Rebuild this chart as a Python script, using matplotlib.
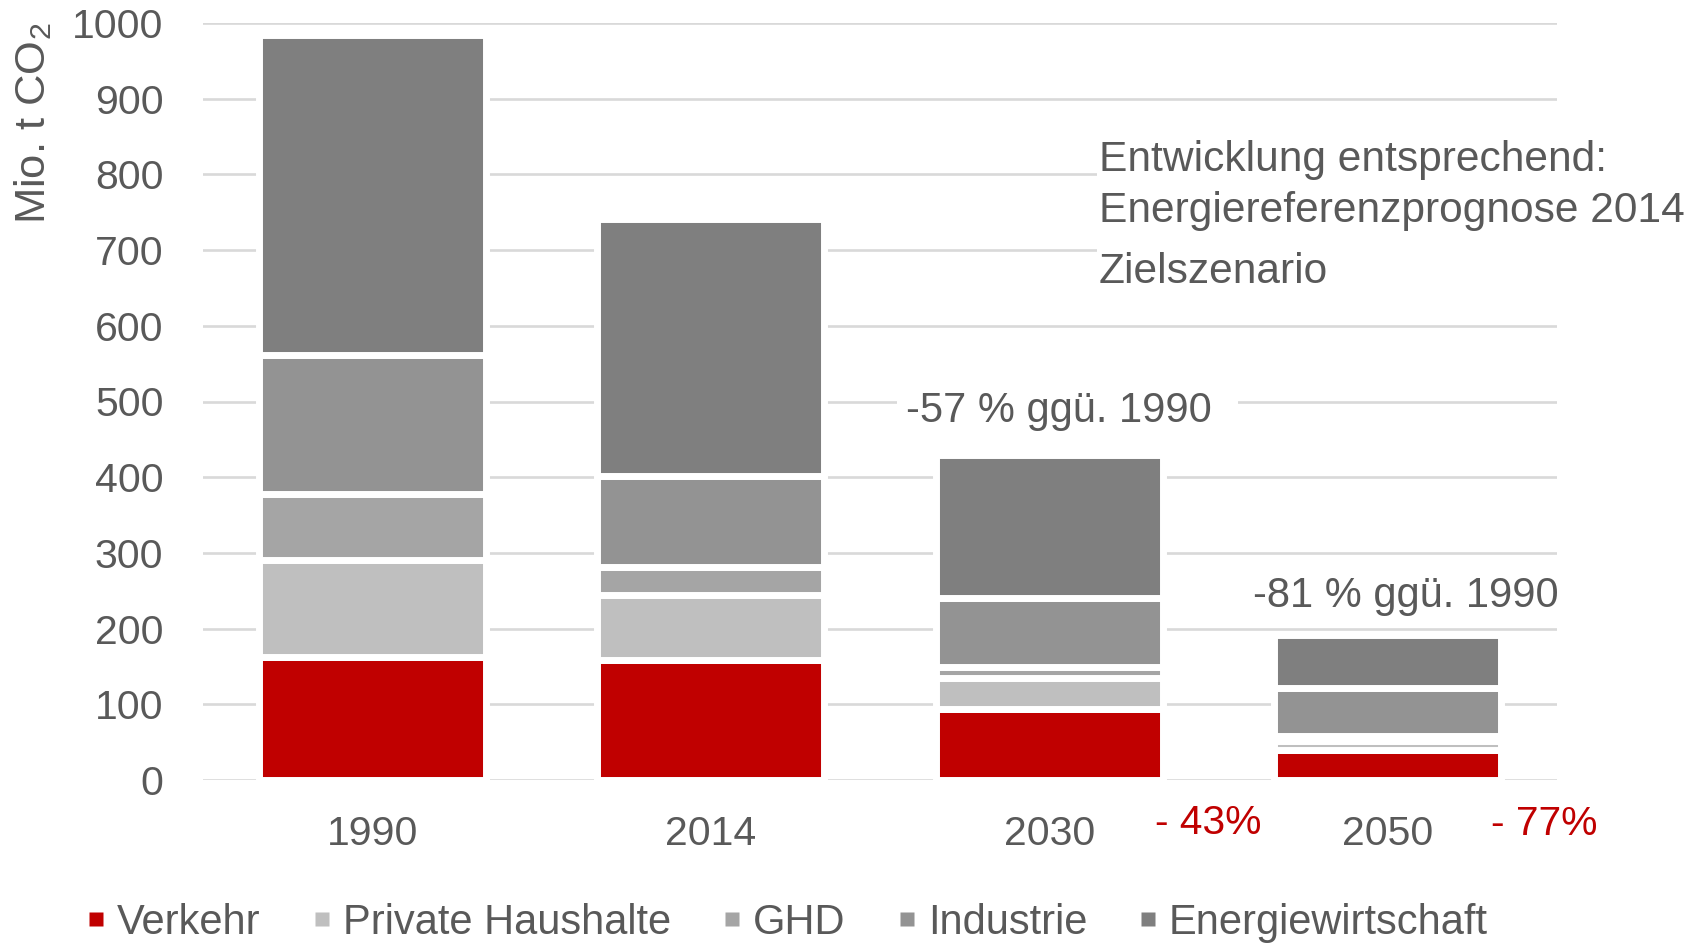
import matplotlib
matplotlib.use("Agg")
import matplotlib.pyplot as plt
from matplotlib.patches import Rectangle
from matplotlib.lines import Line2D
import numpy as np

plt.rcParams['font.family'] = ['Liberation Sans', 'DejaVu Sans']
plt.rcParams['mathtext.fontset'] = 'custom'
plt.rcParams['mathtext.rm'] = 'Liberation Sans'
plt.rcParams['mathtext.it'] = 'Liberation Sans:italic'
plt.rcParams['mathtext.bf'] = 'Liberation Sans:bold'

# ---- data ----
years = ["1990", "2014", "2030", "2050"]
sectors = ["Verkehr", "Private Haushalte", "GHD", "Industrie", "Energiewirtschaft"]
verkehr = [163, 158, 94, 39]
haushalte = [128, 87, 41, 13]
ghd = [87, 37, 14, 6]
industrie = [184, 119, 92, 64]
energie = [422, 340, 188, 69]
reductions_total = ["-57 % ggü. 1990", "-81 % ggü. 1990"]
reductions_verkehr = ["- 43%", "- 77%"]
yticks = [0, 100, 200, 300, 400, 500, 600, 700, 800, 900, 1000]

colors = ["#C00000", "#BFBFBF", "#A5A5A5", "#939393", "#7F7F7F"]
text_col = "#595959"
red = "#C00000"

W, H = 1698, 943
fig = plt.figure(figsize=(W / 100, H / 100), dpi=100)

def fx(px):
    return px / W

def fy(py):
    return 1 - py / H

ax = fig.add_axes([fx(203), fy(780), fx(1557) - fx(203), fy(23) - fy(780)])

series = [verkehr, haushalte, ghd, industrie, energie]
x = np.arange(len(years))
bottom = np.zeros(len(years))
for vals, col, name in zip(series, colors, sectors):
    ax.bar(x, vals, width=0.67, bottom=bottom, color=col, edgecolor="white",
           linewidth=5, label=name, zorder=2)
    bottom += np.array(vals)

ax.set_xlim(-0.5, len(years) - 0.5)
ax.set_ylim(0, 1000)
ax.set_yticks(yticks)
ax.set_xticks(x)
ax.set_xticklabels(years)
ax.set_axisbelow(True)
ax.yaxis.grid(True, color="#D9D9D9", linewidth=1.9)
ax.xaxis.grid(False)
for s in ax.spines.values():
    s.set_visible(False)
ax.tick_params(axis="both", length=0, labelsize=29.5, labelcolor=text_col)
ax.tick_params(axis="y", pad=28.5)
ax.tick_params(axis="x", pad=25)

# white boxes hiding gridlines behind annotation text
fig.add_artist(Rectangle((fx(1097), fy(305)), fx(1698) - fx(1097), fy(108) - fy(305),
                         transform=fig.transFigure, facecolor="white",
                         edgecolor="none", zorder=1.5))
fig.add_artist(Rectangle((fx(897), fy(432)), fx(1238) - fx(897), fy(386) - fy(432),
                         transform=fig.transFigure, facecolor="white",
                         edgecolor="none", zorder=1.5))
ax.set_zorder(0)

# annotation texts
ann_size = 30.6
fig.text(fx(1099), fy(170.7), "Entwicklung entsprechend:", fontsize=ann_size,
         color=text_col, ha="left", va="baseline", zorder=5)
fig.text(fx(1099), fy(221.7), "Energiereferenzprognose 2014", fontsize=ann_size,
         color=text_col, ha="left", va="baseline", zorder=5)
fig.text(fx(1099), fy(282.7), "Zielszenario", fontsize=ann_size,
         color=text_col, ha="left", va="baseline", zorder=5)

fig.text(fx(906), fy(421.7), reductions_total[0], fontsize=30, color=text_col,
         ha="left", va="baseline", zorder=5)
fig.text(fx(1253), fy(607), reductions_total[1], fontsize=30, color=text_col,
         ha="left", va="baseline", zorder=5)

fig.text(fx(1155), fy(834), reductions_verkehr[0], fontsize=29.3, color=red,
         ha="left", va="baseline", zorder=5)
fig.text(fx(1491), fy(835), reductions_verkehr[1], fontsize=29.3, color=red,
         ha="left", va="baseline", zorder=5)

# y label
fig.text(fx(33), fy(123), r"Mio. t CO$_{\mathrm{2}}$", rotation=90, fontsize=31.3,
         color=text_col, ha="center", va="center")

# legend
handles = [Line2D([0], [0], marker="s", linestyle="none", markersize=10,
                  markerfacecolor=c, markeredgecolor="none") for c in colors]
fig.legend(handles, sectors, loc="center left", bbox_to_anchor=(fx(88), fy(923)),
           bbox_transform=fig.transFigure, ncol=5, frameon=False, fontsize=30,
           handlelength=0.4, handletextpad=0.3, columnspacing=1.27,
           borderpad=0, borderaxespad=0, labelcolor=text_col)

fig.savefig("out.png", dpi=100, facecolor="white")
